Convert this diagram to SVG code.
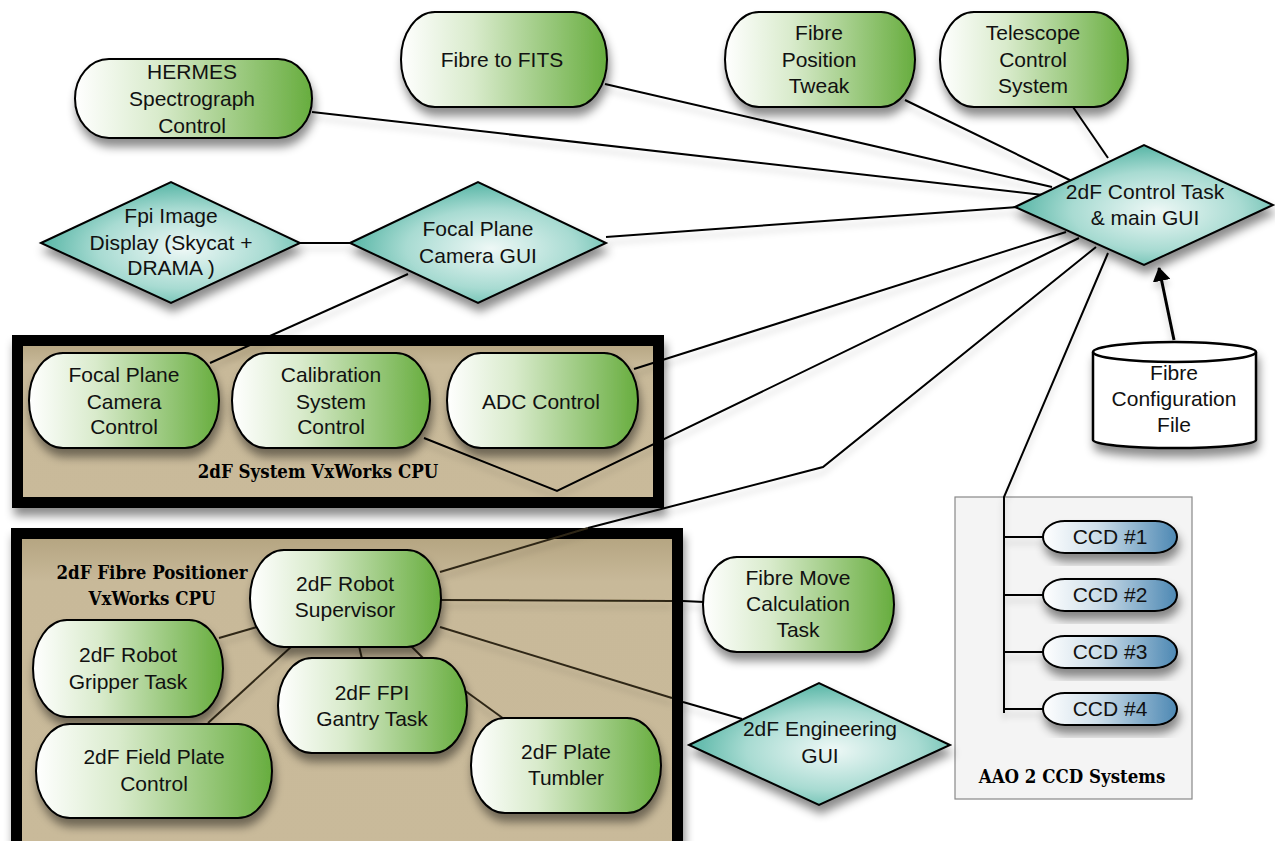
<svg xmlns="http://www.w3.org/2000/svg" width="1275" height="841" viewBox="0 0 1275 841">
<defs>
  <linearGradient id="gGreen" x1="0" y1="0" x2="1" y2="0">
    <stop offset="0" stop-color="#ffffff"/>
    <stop offset="0.35" stop-color="#d9ebcc"/>
    <stop offset="1" stop-color="#67ad3e"/>
  </linearGradient>
  <radialGradient id="gTeal" cx="0.55" cy="0.55" r="0.6">
    <stop offset="0" stop-color="#eef8f6"/>
    <stop offset="0.55" stop-color="#a8dbd2"/>
    <stop offset="1" stop-color="#45ad9c"/>
  </radialGradient>
  <linearGradient id="gBlue" x1="0" y1="0" x2="1" y2="0">
    <stop offset="0" stop-color="#ffffff"/>
    <stop offset="0.4" stop-color="#cfdfea"/>
    <stop offset="1" stop-color="#4d88b3"/>
  </linearGradient>
  <linearGradient id="gTan" x1="0" y1="0" x2="0" y2="1">
    <stop offset="0" stop-color="#b3a37f"/>
    <stop offset="0.15" stop-color="#c8b999"/>
    <stop offset="1" stop-color="#c9ba9a"/>
  </linearGradient>
  <filter id="sh" x="-20%" y="-20%" width="140%" height="160%">
    <feDropShadow dx="2" dy="8" stdDeviation="5" flood-color="#000" flood-opacity="0.45"/>
  </filter>
  <filter id="lsh" x="-5%" y="-20%" width="110%" height="140%">
    <feDropShadow dx="0" dy="6" stdDeviation="3" flood-color="#000" flood-opacity="0.18"/>
  </filter>
  <marker id="arr" markerWidth="14" markerHeight="18" refX="13" refY="9" orient="auto" markerUnits="userSpaceOnUse">
    <path d="M0,0 L14,9 L0,18 Z" fill="#000"/>
  </marker>
  <style>
    .pill { fill: url(#gGreen); stroke: #000; stroke-width: 2; filter: url(#sh); }
    .dia { fill: url(#gTeal); stroke: #000; stroke-width: 2; filter: url(#sh); }
    .ccd { fill: url(#gBlue); stroke: #000; stroke-width: 2; filter: url(#sh); }
    .cont { fill: url(#gTan); stroke: #000; stroke-width: 11; filter: url(#sh); }
    .t { font-family: "Liberation Sans", Arial, sans-serif; font-size: 21px; fill: #111; text-anchor: middle; }
    .bl { font-family: "DejaVu Serif", "Liberation Serif", serif; font-stretch: condensed; font-weight: bold; font-size: 18.5px; fill: #000; text-anchor: middle; }
    .ln { fill: none; stroke: #000; stroke-width: 2; }
    .lin { fill: none; stroke: #2f2716; stroke-width: 2; }
  </style>
</defs>
<rect width="1275" height="841" fill="#fff"/>

<!-- containers -->
<g id="cpu1">
  <rect class="cont" x="17.5" y="340.5" width="641" height="162"/>
  <text class="bl" x="318" y="478">2dF System VxWorks CPU</text>
</g>
<g id="cpu2">
  <rect class="cont" x="16.5" y="533.5" width="661" height="320"/>
  <text class="bl" x="152" y="579">2dF Fibre Positioner</text>
  <text class="bl" x="152" y="605">VxWorks CPU</text>
</g>
<g id="ccdsys">
  <rect x="955" y="497" width="237" height="302" fill="#f4f4f4" stroke="#888" stroke-width="1.2"/>
  <text class="bl" x="1072" y="783">AAO 2 CCD Systems</text>
</g>

<!-- connectors -->
<g id="connectors" filter="url(#lsh)">
  <line class="ln" x1="312" y1="112" x2="1043" y2="195"/>
  <line class="ln" x1="605" y1="84" x2="1052" y2="187"/>
  <line class="ln" x1="905" y1="100" x2="1078" y2="184"/>
  <line class="ln" x1="1073" y1="107" x2="1108" y2="158"/>
  <line class="ln" x1="606" y1="237" x2="1018" y2="207"/>
  <line class="ln" x1="300" y1="243" x2="350" y2="243"/>
  <line class="ln" x1="408" y1="274" x2="210" y2="363"/>
  <line class="ln" x1="634" y1="369" x2="1066" y2="232"/>
  <polyline class="ln" points="424,438 557,491 1079,238"/>
  <polyline class="ln" points="588,528 823,467 1096,247"/>
  <polyline class="lin" points="440,572 588,528"/>
  <polyline class="ln" points="1108,253 1004,497 1004,713"/>
  <line class="ln" x1="1004" y1="537" x2="1043" y2="537" stroke-width="3.5"/>
  <line class="ln" x1="1004" y1="595" x2="1043" y2="595"/>
  <line class="ln" x1="1004" y1="652" x2="1043" y2="652"/>
  <line class="ln" x1="1004" y1="709" x2="1043" y2="709"/>
  <line class="lin" x1="441" y1="600" x2="672" y2="601"/>
  <line class="ln" x1="683" y1="601" x2="704" y2="602"/>
  <line class="lin" x1="440" y1="627" x2="672" y2="698"/>
  <line class="ln" x1="683" y1="702" x2="742" y2="719"/>
  <line class="lin" x1="257" y1="627" x2="219" y2="638"/>
  <line class="lin" x1="292" y1="646" x2="208" y2="723"/>
  <line class="lin" x1="359" y1="646" x2="362" y2="659"/>
  <line class="lin" x1="411" y1="646" x2="424" y2="659"/>
  <line class="lin" x1="464" y1="690" x2="504" y2="719"/>
  <line x1="1174" y1="340" x2="1159" y2="268" stroke="#000" stroke-width="3" marker-end="url(#arr)"/>
</g>

<!-- top nodes -->
<g id="hermes">
  <rect class="pill" x="75" y="59" width="237" height="79" rx="34" ry="39.5"/>
  <text class="t" x="192" y="79">HERMES</text>
  <text class="t" x="192" y="106">Spectrograph</text>
  <text class="t" x="192" y="133">Control</text>
</g>
<g id="fits">
  <rect class="pill" x="401" y="12" width="206" height="95" rx="34" ry="47.5"/>
  <text class="t" x="502" y="67">Fibre to FITS</text>
</g>
<g id="tweak">
  <rect class="pill" x="725" y="12" width="190" height="95" rx="34" ry="47.5"/>
  <text class="t" x="819" y="40">Fibre</text>
  <text class="t" x="819" y="67">Position</text>
  <text class="t" x="819" y="93">Tweak</text>
</g>
<g id="tcs">
  <rect class="pill" x="940" y="12" width="188" height="95" rx="34" ry="47.5"/>
  <text class="t" x="1033" y="40">Telescope</text>
  <text class="t" x="1033" y="67">Control</text>
  <text class="t" x="1033" y="93">System</text>
</g>
<g id="control">
  <polygon class="dia" points="1015,207 1144,145 1273,205 1144,265"/>
  <text class="t" x="1145" y="199">2dF Control Task</text>
  <text class="t" x="1145" y="225">&amp; main GUI</text>
</g>
<g id="fpi">
  <polygon class="dia" points="41,243 171,182 300,243 171,303"/>
  <text class="t" x="171" y="223">Fpi Image</text>
  <text class="t" x="171" y="250">Display (Skycat +</text>
  <text class="t" x="171" y="275">DRAMA )</text>
</g>
<g id="fpcgui">
  <polygon class="dia" points="350,243 478,182 606,243 478,303"/>
  <text class="t" x="478" y="236">Focal Plane</text>
  <text class="t" x="478" y="263">Camera GUI</text>
</g>
<g id="fibreconf">
  <path d="M1093,352 A81.5,10 0 0 1 1256,352 L1256,440 A81.5,8 0 0 1 1093,440 Z" fill="#fff" stroke="#000" stroke-width="2.5" filter="url(#sh)"/>
  <path d="M1093,352 A81.5,10 0 0 0 1256,352" fill="none" stroke="#000" stroke-width="2.5"/>
  <text class="t" x="1174" y="380">Fibre</text>
  <text class="t" x="1174" y="406">Configuration</text>
  <text class="t" x="1174" y="432">File</text>
</g>

<!-- CPU1 nodes -->
<g id="fpcc">
  <rect class="pill" x="29" y="353" width="190" height="95" rx="34" ry="47.5"/>
  <text class="t" x="124" y="382">Focal Plane</text>
  <text class="t" x="124" y="409">Camera</text>
  <text class="t" x="124" y="434">Control</text>
</g>
<g id="calib">
  <rect class="pill" x="232" y="353" width="198" height="95" rx="34" ry="47.5"/>
  <text class="t" x="331" y="382">Calibration</text>
  <text class="t" x="331" y="409">System</text>
  <text class="t" x="331" y="434">Control</text>
</g>
<g id="adc">
  <rect class="pill" x="447" y="353" width="191" height="95" rx="34" ry="47.5"/>
  <text class="t" x="541" y="409">ADC Control</text>
</g>

<!-- CPU2 nodes -->
<g id="supervisor">
  <rect class="pill" x="250" y="550" width="191" height="97" rx="34" ry="48.5"/>
  <text class="t" x="345" y="591">2dF Robot</text>
  <text class="t" x="345" y="617">Supervisor</text>
</g>
<g id="gripper">
  <rect class="pill" x="33" y="620" width="190" height="97" rx="34" ry="48.5"/>
  <text class="t" x="128" y="662">2dF Robot</text>
  <text class="t" x="128" y="689">Gripper Task</text>
</g>
<g id="gantry">
  <rect class="pill" x="278" y="658" width="189" height="95" rx="34" ry="47.5"/>
  <text class="t" x="372" y="700">2dF FPI</text>
  <text class="t" x="372" y="726">Gantry Task</text>
</g>
<g id="fieldplate">
  <rect class="pill" x="36" y="724" width="236" height="94" rx="34" ry="47"/>
  <text class="t" x="154" y="764">2dF Field Plate</text>
  <text class="t" x="154" y="791">Control</text>
</g>
<g id="tumbler">
  <rect class="pill" x="471" y="718" width="190" height="95" rx="34" ry="47.5"/>
  <text class="t" x="566" y="759">2dF Plate</text>
  <text class="t" x="566" y="785">Tumbler</text>
</g>

<!-- right side nodes -->
<g id="fibremove">
  <rect class="pill" x="703" y="557" width="191" height="95" rx="34" ry="47.5"/>
  <text class="t" x="798" y="585">Fibre Move</text>
  <text class="t" x="798" y="611">Calculation</text>
  <text class="t" x="798" y="637">Task</text>
</g>
<g id="enggui">
  <polygon class="dia" points="689,745 819,683 950,745 819,805"/>
  <text class="t" x="820" y="736">2dF Engineering</text>
  <text class="t" x="820" y="763">GUI</text>
</g>
<g id="ccd1">
  <rect class="ccd" x="1043" y="521" width="134" height="32" rx="22" ry="16"/>
  <text class="t" x="1110" y="544">CCD #1</text>
</g>
<g id="ccd2">
  <rect class="ccd" x="1043" y="579" width="134" height="32" rx="22" ry="16"/>
  <text class="t" x="1110" y="602">CCD #2</text>
</g>
<g id="ccd3">
  <rect class="ccd" x="1043" y="636" width="134" height="32" rx="22" ry="16"/>
  <text class="t" x="1110" y="659">CCD #3</text>
</g>
<g id="ccd4">
  <rect class="ccd" x="1043" y="693" width="134" height="32" rx="22" ry="16"/>
  <text class="t" x="1110" y="716">CCD #4</text>
</g>
</svg>
